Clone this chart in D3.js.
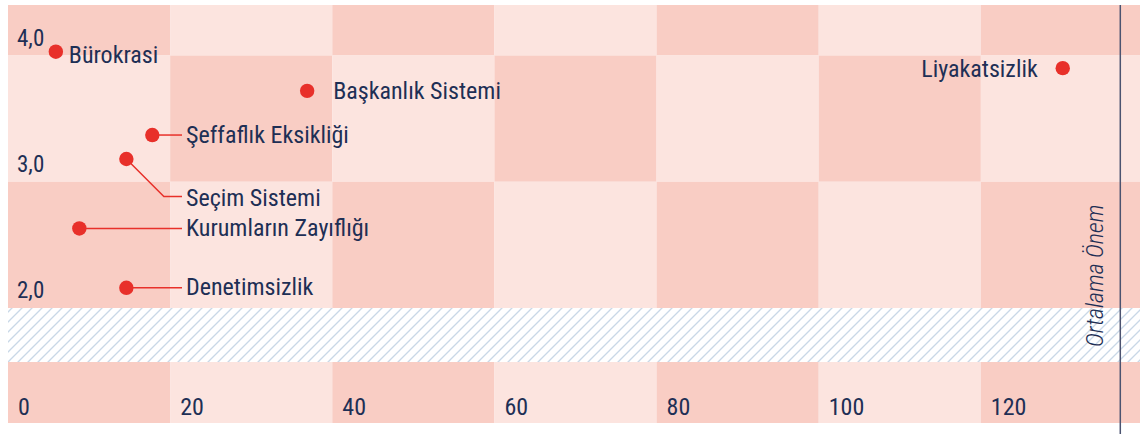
<!DOCTYPE html>
<html>
<head>
<meta charset="utf-8">
<script src="https://cdn.jsdelivr.net/npm/d3@7"></script>
<style>
  body { margin: 0; background: #fff; }
  text { font-family: "Roboto Condensed", Roboto, sans-serif; font-stretch: condensed; fill: #1e2f55; }
  text.label, text.ytick { font-stretch: 85%; }
</style>
</head>
<body>
<div id="chart"></div>
<script>
// Data
const issues = ['Bürokrasi', 'Başkanlık Sistemi', 'Şeffaflık Eksikliği', 'Seçim Sistemi',
  'Kurumların Zayıflığı', 'Denetimsizlik', 'Liyakatsizlik'];
const mentions = [5.9, 36.9, 17.8, 14.6, 8.8, 14.6, 130.1];
const importance = [4.03, 3.72, 3.37, 3.18, 2.63, 2.16, 3.90];
const xTicks = [0, 20, 40, 60, 80, 100, 120];
const yTicks = [2, 3, 4];
const averageMentions = 137.2;
const averageLabel = 'Ortalama Önem';

// label layout (pixel offsets, not data)
const labelLayout = {
  'Bürokrasi': { dx: 13, dy: 11 },
  'Başkanlık Sistemi': { dx: 26, dy: 8 },
  'Şeffaflık Eksikliği': { toX: 186, dy: 8 },
  'Seçim Sistemi': { toX: 186, drop: 37.5, dy: 9 },
  'Kurumların Zayıflığı': { toX: 186, dy: 8 },
  'Denetimsizlik': { toX: 186, dy: 7.5 },
  'Liyakatsizlik': { dx: -25, dy: 8.5, anchor: 'end' }
};

const W = 1140, H = 434;
const dark = '#f9cdc4', light = '#fce4df', red = '#e8302a';

const svg = d3.select('#chart').append('svg')
  .attr('width', W).attr('height', H);

const x = d3.scaleLinear().domain([0, 140]).range([8, 1143]);
const y = d3.scaleLinear().domain([2, 4.4]).range([308, 5]);

const defs = svg.append('defs');
const hatch = defs.append('pattern')
  .attr('id', 'hatch')
  .attr('patternUnits', 'userSpaceOnUse')
  .attr('width', 10).attr('height', 10);
hatch.append('rect').attr('width', 10).attr('height', 10).attr('fill', '#fff');
hatch.append('path')
  .attr('d', 'M-1,1 L1,-1 M0,10 L10,0 M9,11 L11,9')
  .attr('stroke', '#c9d8e7').attr('stroke-width', 1.3);

// row bands, top to bottom
const hatchTop = 308, hatchBottom = 362, axisBottom = 423;
const rows = [
  { y0: y(4.4), y1: y(4) },
  { y0: y(4), y1: y(3) },
  { y0: y(3), y1: y(2) },
  { y0: hatchTop, y1: hatchBottom, hatched: true },
  { y0: hatchBottom, y1: axisBottom }
];
const cols = d3.range(0, 140, 20);

const grid = svg.append('g');
rows.forEach((r, ri) => {
  if (r.hatched) {
    grid.append('rect')
      .attr('x', x(0)).attr('y', r.y0)
      .attr('width', x(140) - x(0)).attr('height', r.y1 - r.y0)
      .attr('fill', 'url(#hatch)');
    return;
  }
  grid.selectAll(null)
    .data(cols)
    .enter().append('rect')
    .attr('x', d => x(d))
    .attr('y', r.y0)
    .attr('width', x(20) - x(0))
    .attr('height', r.y1 - r.y0)
    .attr('fill', (d, ci) => (ci + ri) % 2 === 0 ? dark : light);
});

// y tick labels
svg.append('g').selectAll('text')
  .data(yTicks)
  .enter().append('text')
  .attr('class', 'ytick')
  .attr('x', x(0) + 9)
  .attr('y', d => y(d) - 10)
  .attr('font-size', 23)
  .text(d => d3.format('.1f')(d).replace('.', ','));

// x tick labels
svg.append('g').selectAll('text')
  .data(xTicks)
  .enter().append('text')
  .attr('x', d => x(d) + 10)
  .attr('y', 415)
  .attr('font-size', 24)
  .text(d => d);

// average line
svg.append('line')
  .attr('x1', x(averageMentions)).attr('x2', x(averageMentions))
  .attr('y1', y(4.4)).attr('y2', H)
  .attr('stroke', '#4b5370').attr('stroke-width', 1.5);

svg.append('text')
  .attr('transform', `translate(${x(averageMentions) - 17},347) rotate(-90)`)
  .attr('font-size', 24)
  .attr('font-style', 'italic')
  .attr('font-weight', 300)
  .text(averageLabel);

// points
const points = issues.map((name, i) => ({
  name, cx: x(mentions[i]), cy: y(importance[i]), layout: labelLayout[name]
}));

const g = svg.append('g');

// leader lines
g.selectAll('path.leader')
  .data(points.filter(d => d.layout.toX))
  .enter().append('path')
  .attr('class', 'leader')
  .attr('fill', 'none')
  .attr('stroke', red)
  .attr('stroke-width', 1.5)
  .attr('d', d => {
    const L = d.layout;
    if (L.drop) {
      const ly = d.cy + L.drop;
      return `M${d.cx},${d.cy} L${d.cx + L.drop},${ly} L${L.toX - 4},${ly}`;
    }
    return `M${d.cx},${d.cy} L${L.toX - 4},${d.cy}`;
  });

g.selectAll('circle')
  .data(points)
  .enter().append('circle')
  .attr('cx', d => d.cx)
  .attr('cy', d => d.cy)
  .attr('r', 7.2)
  .attr('fill', red);

g.selectAll('text.label')
  .data(points)
  .enter().append('text')
  .attr('class', 'label')
  .attr('font-size', 24)
  .attr('text-anchor', d => d.layout.anchor || 'start')
  .attr('x', d => d.layout.toX ? d.layout.toX : d.cx + d.layout.dx)
  .attr('y', d => d.cy + (d.layout.drop || 0) + d.layout.dy)
  .text(d => d.name);
</script>
</body>
</html>
